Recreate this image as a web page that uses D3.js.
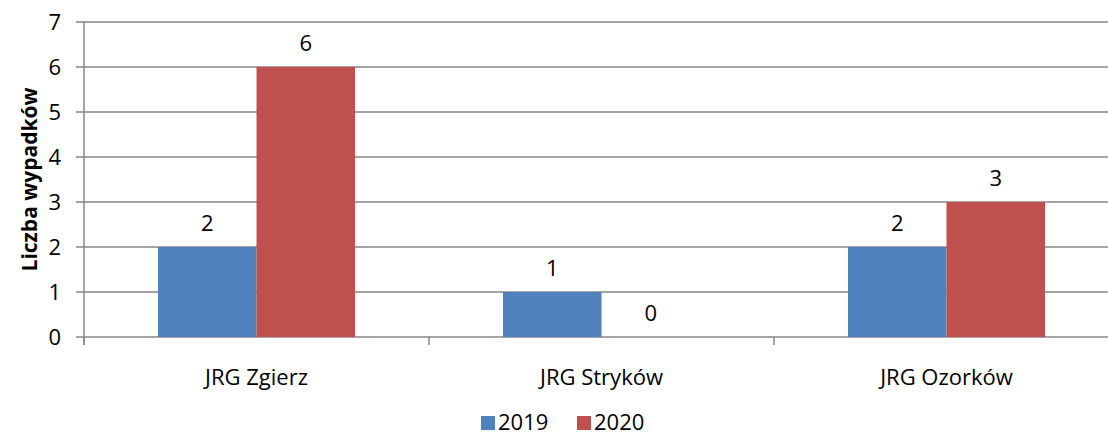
<!DOCTYPE html>
<html>
<head>
<meta charset="utf-8">
<script src="https://cdn.jsdelivr.net/npm/d3@7"></script>
<style>
  body { margin: 0; background: #fff; }
  svg { display: block; font-family: "Open Sans", "Liberation Sans", sans-serif; }
</style>
</head>
<body>
<div class="content"></div>
<script>
var categories = ["JRG Zgierz", "JRG Stryków", "JRG Ozorków"];
var years = ["2019", "2020"];
var values2019 = [2, 1, 2];
var values2020 = [6, 0, 3];
var yTicks = [0, 1, 2, 3, 4, 5, 6, 7];
var colors = ["#4F81BD", "#C0504D"];

var width = 1108, height = 436;
var plotLeft = 84, plotTop = 22, plotBottom = 337;
var catWidth = 345;
var fontSize = "22px";

var svg = d3.select(".content").append("svg")
  .attr("width", width)
  .attr("height", height);

var x = d3.scaleBand()
  .domain(categories)
  .range([plotLeft, plotLeft + catWidth * categories.length])
  .paddingInner(0)
  .paddingOuter(0);

var xs = d3.scaleBand()
  .domain(years)
  .range([74, catWidth - 74]);

var y = d3.scaleLinear().domain([0, 7]).range([plotBottom, plotTop]);

// gridlines
svg.selectAll(".grid")
  .data(yTicks)
  .enter().append("line")
  .attr("x1", plotLeft - 8)
  .attr("x2", width)
  .attr("y1", d => y(d))
  .attr("y2", d => y(d))
  .attr("stroke", "#868686")
  .attr("stroke-width", 1.5);

// y axis line
svg.append("line")
  .attr("x1", plotLeft).attr("x2", plotLeft)
  .attr("y1", plotTop).attr("y2", plotBottom + 8)
  .attr("stroke", "#868686").attr("stroke-width", 1.5);

// category ticks
d3.range(categories.length + 1).forEach(function(i) {
  svg.append("line")
    .attr("x1", plotLeft + i * catWidth).attr("x2", plotLeft + i * catWidth)
    .attr("y1", plotBottom).attr("y2", plotBottom + 8)
    .attr("stroke", "#868686").attr("stroke-width", 1.5);
});

// y tick labels
svg.selectAll(".ylab")
  .data(yTicks)
  .enter().append("text")
  .attr("x", 61)
  .attr("y", d => y(d))
  .attr("dy", "0.35em")
  .attr("text-anchor", "end")
  .attr("font-size", fontSize)
  .attr("fill", "#000")
  .text(d => d);

// y axis title
svg.append("text")
  .attr("transform", "translate(37," + ((plotTop + plotBottom) / 2) + ") rotate(-90)")
  .attr("text-anchor", "middle")
  .attr("font-size", "21px")
  .attr("font-weight", "bold")
  .text("Liczba wypadków");

var series = [values2019, values2020];

series.forEach(function(vals, si) {
  categories.forEach(function(cat, ci) {
    var bx = x(cat) + xs(years[si]);
    var v = vals[ci];
    svg.append("rect")
      .attr("x", bx)
      .attr("y", y(v))
      .attr("width", xs.bandwidth())
      .attr("height", y(0) - y(v))
      .attr("fill", colors[si]);
    svg.append("text")
      .attr("x", bx + xs.bandwidth() / 2)
      .attr("y", y(v) - 24)
      .attr("dy", "0.35em")
      .attr("text-anchor", "middle")
      .attr("font-size", fontSize)
      .text(v);
  });
});

// category labels
svg.selectAll(".xlab")
  .data(categories)
  .enter().append("text")
  .attr("x", d => x(d) + catWidth / 2)
  .attr("y", 377)
  .attr("dy", "0.35em")
  .attr("text-anchor", "middle")
  .attr("font-size", fontSize)
  .text(d => d);

// legend
var legendX = [481, 577];
years.forEach(function(yr, i) {
  svg.append("rect")
    .attr("x", legendX[i])
    .attr("y", 416)
    .attr("width", 14)
    .attr("height", 14)
    .attr("fill", colors[i]);
  svg.append("text")
    .attr("x", legendX[i] + 17)
    .attr("y", 422)
    .attr("dy", "0.35em")
    .attr("font-size", fontSize)
    .text(yr);
});
</script>
</body>
</html>
